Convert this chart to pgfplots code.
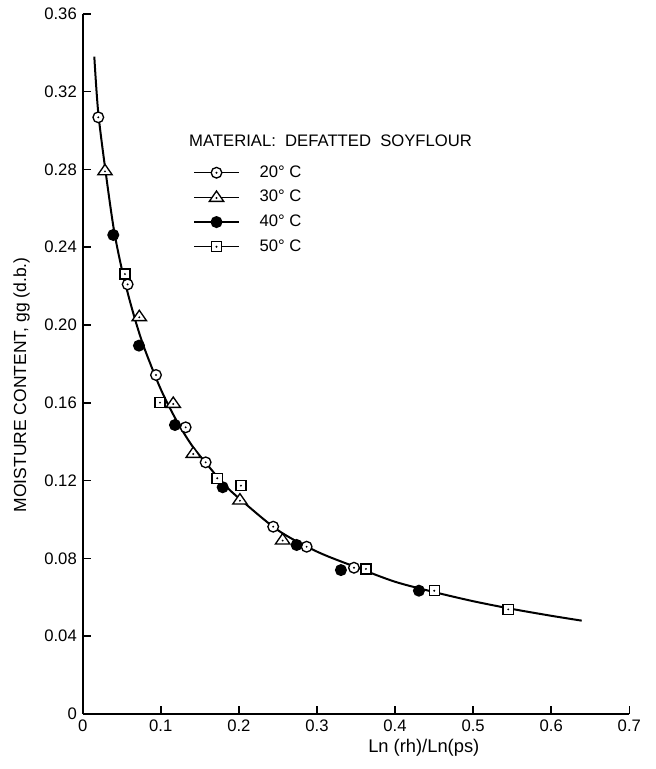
\documentclass[border=0pt]{standalone}
\usepackage{pgfplots}
\pgfplotsset{compat=1.18}
\usepackage{fontspec}
\setmainfont{Liberation Sans}

\pgfdeclareplotmark{codot}{%
  \pgfpathcircle{\pgfpointorigin}{\pgfplotmarksize}%
  \pgfsetfillcolor{white}\pgfusepathqfillstroke
  \pgfpathcircle{\pgfpointorigin}{0.2\pgfplotmarksize}%
  \pgfsetfillcolor{black}\pgfusepathqfill}
\pgfdeclareplotmark{tdot}{%
  \pgfpathmoveto{\pgfpoint{0pt}{1.2\pgfplotmarksize}}%
  \pgfpathlineto{\pgfpoint{-1.35\pgfplotmarksize}{-0.75\pgfplotmarksize}}%
  \pgfpathlineto{\pgfpoint{1.35\pgfplotmarksize}{-0.75\pgfplotmarksize}}%
  \pgfpathclose
  \pgfsetfillcolor{white}\pgfusepathqfillstroke
  \pgfpathcircle{\pgfpoint{0pt}{-0.12\pgfplotmarksize}}{0.2\pgfplotmarksize}%
  \pgfsetfillcolor{black}\pgfusepathqfill}
\pgfdeclareplotmark{sdot}{%
  \pgfpathrectangle{\pgfpoint{-0.95\pgfplotmarksize}{-0.95\pgfplotmarksize}}{\pgfpoint{1.9\pgfplotmarksize}{1.9\pgfplotmarksize}}%
  \pgfsetfillcolor{white}\pgfusepathqfillstroke
  \pgfpathcircle{\pgfpointorigin}{0.2\pgfplotmarksize}%
  \pgfsetfillcolor{black}\pgfusepathqfill}
\pgfdeclareplotmark{fdot}{%
  \pgfpathcircle{\pgfpointorigin}{\pgfplotmarksize}%
  \pgfsetfillcolor{black}\pgfusepathqfillstroke}

\pgfplotstableread{
x y
0.0149 0.338
0.020 0.309
0.030 0.277
0.040 0.249
0.050 0.229
0.060 0.213
0.070 0.199
0.080 0.187
0.100 0.167
0.120 0.151
0.140 0.138
0.160 0.128
0.180 0.1185
0.200 0.111
0.250 0.0945
0.300 0.0835
0.350 0.0755
0.400 0.068
0.450 0.0627
0.500 0.058
0.550 0.054
0.600 0.0505
0.639 0.048
}\curvedata

\pgfplotstableread{
x y
0.0200 0.3068
0.0576 0.2209
0.0939 0.1743
0.1319 0.1474
0.1575 0.1294
0.2440 0.0963
0.2868 0.0860
0.3474 0.0752
}\twenty

\pgfplotstableread{
x y
0.0286 0.2793
0.0725 0.2043
0.1160 0.1597
0.1416 0.1340
0.2014 0.1100
0.2561 0.0895
}\thirty

\pgfplotstableread{
x y
0.0392 0.2463
0.0721 0.1894
0.1182 0.1486
0.1793 0.1166
0.2740 0.0869
0.3307 0.0740
0.4306 0.0634
}\forty

\pgfplotstableread{
x y
0.0542 0.2262
0.0990 0.1601
0.1723 0.1212
0.2027 0.1174
0.3627 0.0746
0.4502 0.0634
0.5449 0.0538
}\fifty

\begin{document}
\begin{tikzpicture}
\path[use as bounding box] (-49.6pt,-33pt) rectangle (344pt,428.4pt);
\begin{axis}[
  scale only axis, width=328pt, height=420.1pt,
  xmin=0, xmax=0.7, ymin=0, ymax=0.36,
  axis x line*=bottom, axis y line*=left,
  axis line style={line width=1.1pt,-},
  xtick={0,0.1,0.2,0.3,0.4,0.5,0.6,0.7},
  xticklabels={0,0.1,0.2,0.3,0.4,0.5,0.6,0.7},
  ytick={0,0.04,0.08,0.12,0.16,0.20,0.24,0.28,0.32,0.36},
  yticklabels={0,0.04,0.08,0.12,0.16,0.20,0.24,0.28,0.32,0.36},
  tick align=inside, major tick length=5pt,
  tick style={line width=0.9pt, black},
  tick label style={font=\fontsize{10}{12}\selectfont},
  xlabel={Ln (rh)/Ln(ps)},
  ylabel={MOISTURE CONTENT, gg (d.b.)},
  xlabel style={font=\fontsize{11}{13}\selectfont, at={(axis description cs:0.624,-0.0486)}, anchor=center},
  ylabel style={font=\fontsize{10.5}{12}\selectfont, at={(axis description cs:-0.1116,0.47)}, anchor=center},
  legend style={at={(axis cs:0.1413,0.2834)}, anchor=north west, draw=none, fill=none,
    inner sep=0pt, row sep=3.3pt, font=\fontsize{10}{12}\selectfont,
    nodes={inner sep=1pt, text height=7.5pt, text depth=2pt},
    /tikz/every odd column/.append style={column sep=11pt}},
  legend cell align=left,
  legend image code/.code={\draw[mark repeat=2,mark phase=2] plot coordinates {(0pt,0pt)(13.5pt,0pt)(27pt,0pt)};},
]
\addplot[black, line width=1.2pt, smooth, forget plot] table {\curvedata};
\addplot[black, only marks, mark=codot, mark size=3.2pt, line width=0.8pt, forget plot] table {\twenty};
\addplot[black, only marks, mark=tdot, mark size=3.2pt, line width=0.8pt, forget plot] table {\thirty};
\addplot[black, only marks, mark=fdot, mark size=3.2pt, line width=0.8pt, forget plot] table {\forty};
\addplot[black, only marks, mark=sdot, mark size=3.2pt, line width=0.8pt, forget plot] table {\fifty};

\addlegendimage{black, line width=0.8pt, mark=codot, mark size=3.2pt}
\addlegendentry{20° C}
\addlegendimage{black, line width=0.8pt, mark=tdot, mark size=3.2pt}
\addlegendentry{30° C}
\addlegendimage{black, line width=0.8pt, mark=fdot, mark size=3.2pt}
\addlegendentry{40° C}
\addlegendimage{black, line width=0.8pt, mark=sdot, mark size=3.2pt}
\addlegendentry{50° C}

\node[anchor=west, font=\fontsize{10}{12}\selectfont, inner sep=0pt] at (axis cs:0.136,0.2948) {MATERIAL:\ \ DEFATTED\ \ SOYFLOUR};
\end{axis}
\end{tikzpicture}
\end{document}
